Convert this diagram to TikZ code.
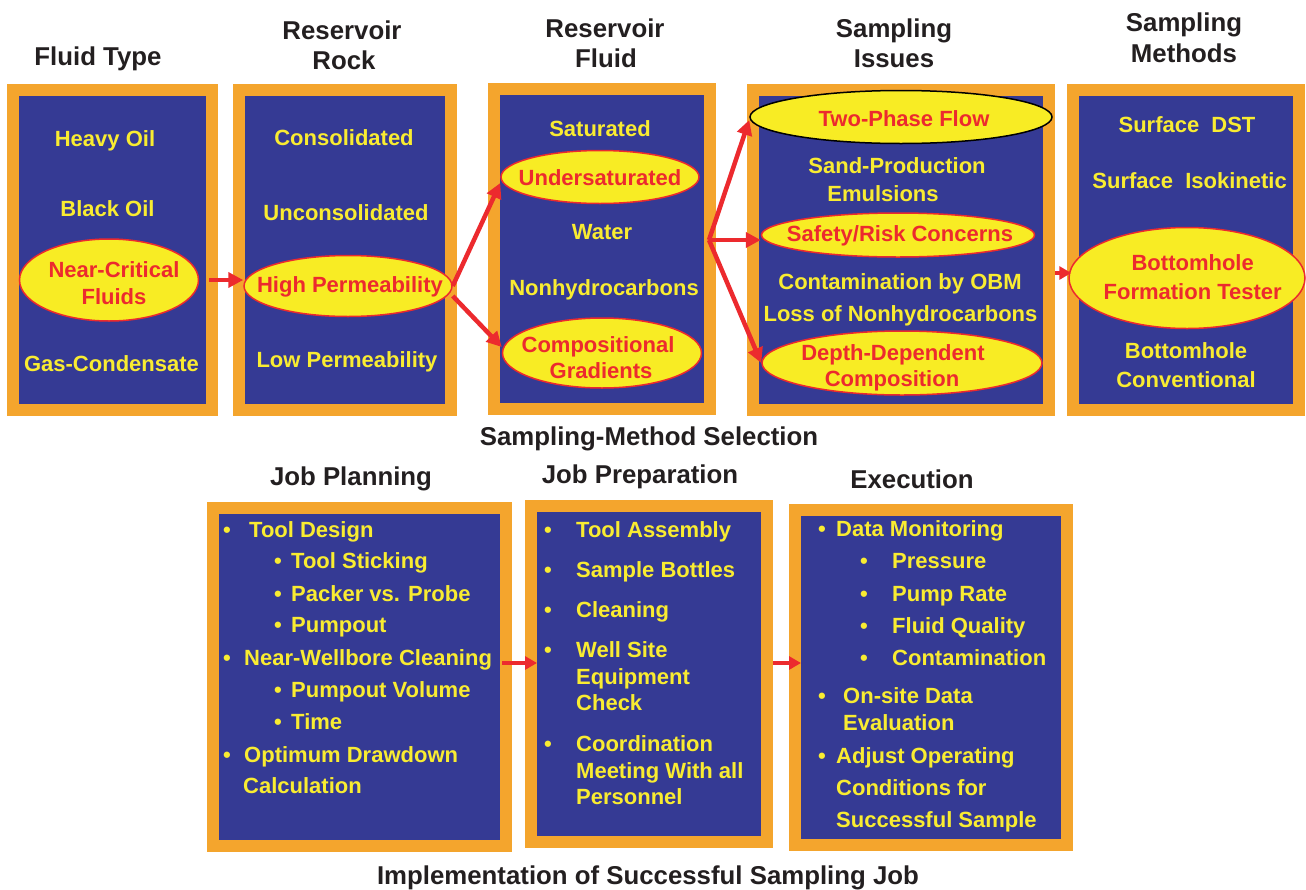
\documentclass[tikz,border=0pt]{standalone}
\usepackage{fontspec}
\setmainfont{Liberation Sans}
\usetikzlibrary{shapes.geometric,arrows.meta}

\definecolor{panelblue}{HTML}{353A94}
\definecolor{frameorange}{HTML}{F4A52D}
\definecolor{itemyellow}{HTML}{F9EC31}
\definecolor{ovalyellow}{HTML}{F8EC24}
\definecolor{flowred}{HTML}{EC2A2E}
\definecolor{headink}{HTML}{231F20}

\tikzset{
  panel/.style={draw=frameorange, line width=12pt, fill=panelblue, inner sep=0pt},
  oval/.style={ellipse, draw=flowred, line width=1.5pt, fill=ovalyellow, inner sep=0pt},
  item/.style={anchor=base, inner sep=0pt, text=itemyellow,
    font=\bfseries\fontsize{22}{26}\selectfont},
  left item/.style={item, anchor=base west},
  hot/.style={item, text=flowred},
  head/.style={anchor=base, inner sep=0pt, text=headink,
    font=\bfseries\fontsize{25.8}{30}\selectfont},
  flow/.style={draw=flowred, line width=4.5pt, -{Triangle[length=15pt,width=15pt]}},
  thinflow/.style={draw=flowred, line width=3.5pt, -{Triangle[length=12pt,width=13pt]}},
}

\begin{document}
\begin{tikzpicture}[x=1pt, y=-1pt]
\useasboundingbox (0,0) rectangle (1306,889);

% ---------- column headings ----------
\node[head] (h1)  at (98,65)   {Fluid Type};
\node[head] (h2a) at (342,39.5){Reservoir};
\node[head] (h2b) at (344,69)  {Rock};
\node[head] (h3a) at (605,37.5){Reservoir};
\node[head] (h3b) at (606,67)  {Fluid};
\node[head] (h4a) at (894,37)  {Sampling};
\node[head] (h4b) at (894,67)  {Issues};
\node[head] (h5a) at (1184,31) {Sampling};
\node[head] (h5b) at (1184,62) {Methods};

% ---------- upper panels ----------
\node[panel, minimum width=199, minimum height=320] (box1) at (112.5,250) {};
\node[panel, minimum width=212, minimum height=320] (box2) at (345,250) {};
\node[panel, minimum width=216, minimum height=320] (box3) at (602,249) {};
\node[panel, minimum width=296, minimum height=320] (box4) at (901,250) {};
\node[panel, minimum width=226, minimum height=320] (box5) at (1186,250) {};

% highlighted entries
\node[oval, minimum width=179, minimum height=82]  (ncf) at (109,280) {};
\node[oval, minimum width=208, minimum height=61]  (hp)  at (348,286) {};
\node[oval, minimum width=198, minimum height=53]  (us)  at (600,177) {};
\node[oval, minimum width=199, minimum height=70]  (cg)  at (602,353) {};
\node[oval, draw=black, minimum width=302, minimum height=53] (tp) at (901,117) {};
\node[oval, minimum width=273, minimum height=44]  (sr)  at (898,235) {};
\node[oval, minimum width=280, minimum height=64]  (dd)  at (902,363) {};
\node[oval, minimum width=236, minimum height=101] (bft) at (1187,278) {};

% Fluid Type
\node[item] (t1a) at (105,146)   {Heavy Oil};
\node[item] (t1b) at (107.5,216) {Black Oil};
\node[hot]  (t1c) at (114,277)   {Near-Critical};
\node[hot]  (t1d) at (114,304)   {Fluids};
\node[item] (t1e) at (111.5,371) {Gas-Condensate};

% Reservoir Rock
\node[item] (t2a) at (344,145) {Consolidated};
\node[item] (t2b) at (346,220) {Unconsolidated};
\node[hot]  (t2c) at (350,292) {High Permeability};
\node[item] (t2d) at (347,367) {Low Permeability};

% Reservoir Fluid
\node[item] (t3a) at (600,136) {Saturated};
\node[hot]  (t3b) at (600,185) {Undersaturated};
\node[item] (t3c) at (602,239) {Water};
\node[item] (t3d) at (604,295) {Nonhydrocarbons};
\node[hot]  (t3e) at (598,352) {Compositional};
\node[hot]  (t3f) at (601,378) {Gradients};

% Sampling Issues
\node[hot]  (t4a) at (904,126) {Two-Phase Flow};
\node[item] (t4b) at (897,173) {Sand-Production};
\node[item] (t4c) at (883,201) {Emulsions};
\node[hot]  (t4d) at (900,241) {Safety/Risk Concerns};
\node[item] (t4e) at (900,289) {Contamination by OBM};
\node[item] (t4f) at (900.5,321) {Loss of Nonhydrocarbons};
\node[hot]  (t4g) at (893,360) {Depth-Dependent};
\node[hot]  (t4h) at (892,386) {Composition};

% Sampling Methods
\node[item] (t5a) at (1187,132)   {Surface\hspace{0.55em}DST};
\node[item] (t5b) at (1189.6,188) {Surface\hspace{0.55em}Isokinetic};
\node[hot]  (t5c) at (1192.7,270) {Bottomhole};
\node[hot]  (t5d) at (1192.7,299) {Formation Tester};
\node[item] (t5e) at (1186,358)   {Bottomhole};
\node[item] (t5f) at (1186,387)   {Conventional};

% connections between the upper panels
\draw[flow] ([xshift=10pt]ncf.east) -- (ncf.east -| hp.west);
\draw[flow] (hp.east) -- ([yshift=-6pt]us.west);
\draw[flow] ([yshift=-10pt]hp.east) -- ([yshift=6pt]cg.west);
\coordinate (fork) at (709,240);
\draw[flow] (fork) -- ([yshift=-3pt]tp.west);
\draw[flow] (fork) -- (fork -| sr.west);
\draw[flow] (fork) -- (dd.west);
\draw[thinflow] ([yshift=5pt]bft.west -| box4.east) -- ([xshift=3pt,yshift=5pt]bft.west);

\node[head] (sel) at (649,445) {Sampling-Method Selection};

% ---------- lower headings ----------
\node[head] (h6) at (351,485) {Job Planning};
\node[head] (h7) at (640,483) {Job Preparation};
\node[head] (h8) at (912,488) {Execution};

% ---------- lower panels ----------
\node[panel, minimum width=293, minimum height=338] (box6) at (359.5,677) {};
\node[panel, minimum width=236, minimum height=336] (box7) at (649,674) {};
\node[panel, minimum width=272, minimum height=335] (box8) at (931,677.5) {};

% Job Planning
\node[item] (p1) at (227,537) {•};
\node[left item] (p1t) at (249,537) {Tool Design};
\node[item] (p2) at (278,568) {•};
\node[left item] (p2t) at (291,568) {Tool Sticking};
\node[item] (p3) at (278,601) {•};
\node[left item] (p3t) at (291,601) {Packer vs. Probe};
\node[item] (p4) at (278,632) {•};
\node[left item] (p4t) at (291,632) {Pumpout};
\node[item] (p5) at (227,665) {•};
\node[left item] (p5t) at (244,665) {Near-Wellbore Cleaning};
\node[item] (p6) at (278,697) {•};
\node[left item] (p6t) at (291,697) {Pumpout Volume};
\node[item] (p7) at (278,729) {•};
\node[left item] (p7t) at (291,729) {Time};
\node[item] (p8) at (227,762) {•};
\node[left item] (p8t) at (244,762) {Optimum Drawdown};
\node[left item] (p9t) at (243,793) {Calculation};

% Job Preparation
\node[item] (q1) at (548,537) {•};
\node[left item] (q1t) at (576,537) {Tool Assembly};
\node[item] (q2) at (548,577) {•};
\node[left item] (q2t) at (576,577) {Sample Bottles};
\node[item] (q3) at (548,617) {•};
\node[left item] (q3t) at (576,617) {Cleaning};
\node[item] (q4) at (548,657) {•};
\node[left item] (q4t) at (576,657) {Well Site};
\node[left item] (q4u) at (576,684) {Equipment};
\node[left item] (q4v) at (576,710) {Check};
\node[item] (q5) at (548,751) {•};
\node[left item] (q5t) at (576,751) {Coordination};
\node[left item] (q5u) at (576,778) {Meeting With all};
\node[left item] (q5v) at (576,804) {Personnel};

% Execution
\node[item] (e1) at (822,536) {•};
\node[left item] (e1t) at (836,536) {Data Monitoring};
\node[item] (e2) at (864,568) {•};
\node[left item] (e2t) at (892,568) {Pressure};
\node[item] (e3) at (864,601) {•};
\node[left item] (e3t) at (892,601) {Pump Rate};
\node[item] (e4) at (864,633) {•};
\node[left item] (e4t) at (892,633) {Fluid Quality};
\node[item] (e5) at (864,665) {•};
\node[left item] (e5t) at (892,665) {Contamination};
\node[item] (e6) at (822,703) {•};
\node[left item] (e6t) at (843,703) {On-site Data};
\node[left item] (e6u) at (843,730) {Evaluation};
\node[item] (e7) at (822,763) {•};
\node[left item] (e7t) at (836,763) {Adjust Operating};
\node[left item] (e7u) at (836,795) {Conditions for};
\node[left item] (e7v) at (836,827) {Successful Sample};

% connections between the lower panels
\draw[thinflow] ([xshift=-10pt,yshift=14pt]box6.east) -- ([xshift=12pt,yshift=11pt]box7.west);
\draw[thinflow] ([yshift=11pt]box7.east) -- ([xshift=12pt,yshift=14.5pt]box8.west);

\node[head] (impl) at (648,884) {Implementation of Successful Sampling Job};
\end{tikzpicture}
\end{document}
